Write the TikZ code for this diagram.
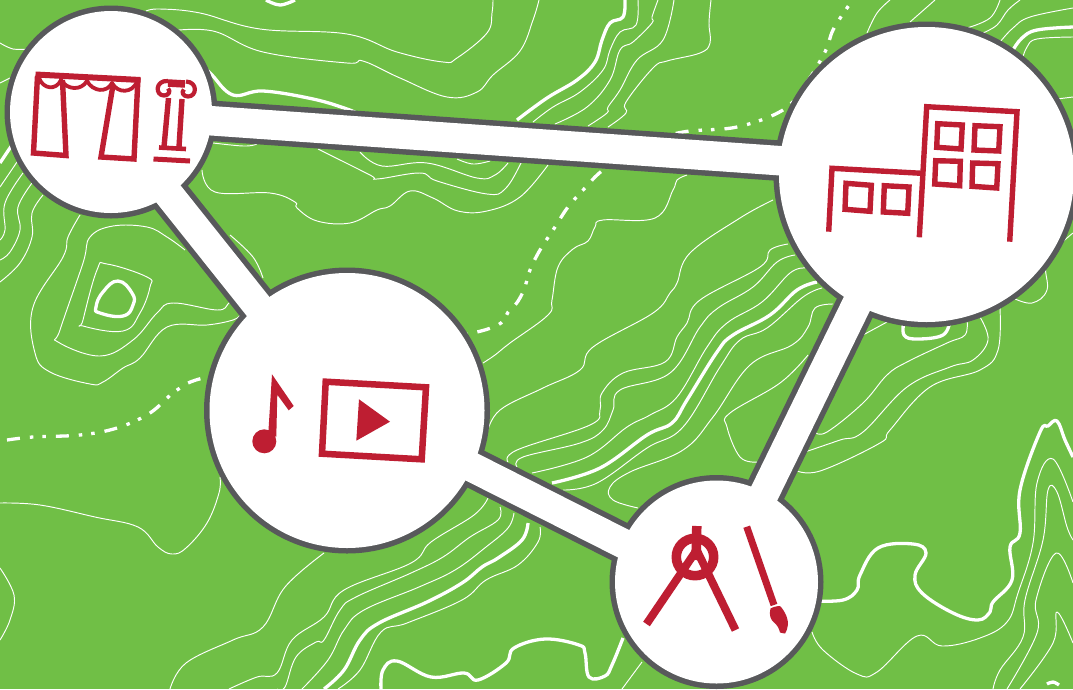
\documentclass[tikz,border=0pt]{standalone}
\definecolor{mapgreen}{HTML}{70BF46}
\definecolor{ringgray}{HTML}{58595B}
\definecolor{iconred}{HTML}{BE1E32}
\tikzset{
  thinc/.style={draw=white,line width=0.95pt,line join=round},
  thickc/.style={draw=white,line width=3.3pt,line join=round},
  roadc/.style={draw=white,line width=3.3pt,dash pattern=on 13pt off 10pt on 3.5pt off 9pt on 3.5pt off 10pt},
  discg/.style={circle,fill=ringgray,inner sep=0pt,outer sep=0pt},
  discw/.style={circle,fill=white,inner sep=0pt,outer sep=0pt},
  linkg/.style={draw=ringgray,line width=40.5pt},
  linkw/.style={draw=white,line width=29.5pt},
  icon/.style={draw=iconred,line width=5.4pt,line join=miter},
  iconf/.style={fill=iconred},
}
\newcommand{\cv}[2]{\draw[#1] plot[smooth,tension=.65] coordinates {#2};}
\begin{document}
\begin{tikzpicture}[x=1pt,y=-1pt]
\useasboundingbox (0,0) rectangle (1073,689);
\clip (0,0) rectangle (1073,689);
\fill[mapgreen] (0,0) rectangle (1073,689);
% contours: top
\cv{thinc}{(146,11)(160,9)(200,13)(260,29)(347,34)(397,52)(443,62)(457,58)(487,33)(492,13)(493,0)}
\cv{thinc}{(170,31)(213,31)(263,52)(347,63)(363,61)(400,78)(447,97)(477,92)(493,75)(520,51)(533,20)(539,0)}
\cv{thickc}{(205,68)(212,75)(233,95)(263,91)(313,99)(347,109)(360,115)}
\cv{thickc}{(266,0)(280,5)(295,0)}
\cv{thickc}{(0,163)(10,148)(16,140)}
\cv{thinc}{(0,43)(13,49)(28,49)}
\cv{thinc}{(0,83)(10,78)}
\cv{thinc}{(205,142)(243,146)(257,144)}
\cv{thinc}{(318,149)(370,175)(377,179)(420,173)(437,181)(487,194)(505,189)(521,163)(525,150)}
\cv{thinc}{(360,152)(382,166)(427,163)(477,178)(495,175)(508,163)}
\cv{thinc}{(457,159)(473,164)(490,161)}
\cv{thinc}{(202,170)(215,192)(270,193)(295,202)(297,208)(317,221)(350,223)(377,210)(390,206)(410,191)(433,198)(458,211)(487,211)(520,197)(548,165)}
% upper right of top link
\cv{thickc}{(625,0)(623,17)(610,23)(602,40)(595,62)(577,80)(547,98)(517,120)}
\cv{thinc}{(638,0)(636,25)(620,32)(610,50)(603,70)(580,92)(553,107)(533,122)}
\cv{thinc}{(658,0)(652,17)(652,23)(633,42)(620,50)(610,80)(587,107)(555,124)}
\cv{thinc}{(674,0)(663,40)(637,60)(620,90)(608,107)(607,113)(588,126)}
\cv{thinc}{(711,0)(709,23)(710,43)(700,53)(667,61)(653,68)(626,102)(626,113)(608,127)}
% below top link
\cv{thinc}{(687,175)(677,180)(673,190)(655,218)(603,220)(595,227)(588,241)(573,249)(558,267)(552,300)(548,315)(510,343)(495,355)(483,363)}
\cv{thinc}{(773,200)(740,218)(690,253)(677,283)(670,293)(653,313)(593,347)(580,370)(543,388)(500,410)(487,433)}
\cv{thinc}{(788,244)(770,250)(760,267)(700,300)(687,323)(677,337)(665,362)(623,373)(602,393)(600,410)(590,425)(517,450)(508,462)}
\cv{thinc}{(795,255)(777,262)(753,287)(718,308)(700,327)(670,373)(620,390)(613,410)(603,430)(580,443)(523,457)(517,467)}
\cv{thinc}{(805,268)(790,273)(762,302)(727,323)(707,347)(677,397)(650,415)(627,427)(587,457)(532,473)}
\cv{thickc}{(817,282)(797,290)(770,315)(733,335)(717,352)(687,400)(672,423)(647,435)(600,468)(552,483)}
\cv{thinc}{(822,288)(803,297)(767,328)(740,340)(720,367)(683,427)(647,448)(597,483)(563,490)}
\cv{thinc}{(833,304)(815,308)(808,327)(792,345)(750,365)(713,417)(683,450)(630,472)(610,487)(613,500)(638,508)}
\cv{thinc}{(808,355)(780,383)(730,413)(727,427)(740,457)(757,462)}
% top right
\cv{thinc}{(890,0)(877,13)(867,33)}
\cv{thinc}{(935,0)(910,22)}
\cv{thinc}{(1000,0)(990,18)(967,28)}
\cv{thinc}{(1020,0)(1008,10)(997,25)(983,33)}
\cv{thinc}{(1073,8)(1030,17)(1013,28)(1000,42)}
\cv{thickc}{(1073,27)(1037,30)(1022,38)(1013,50)}
\cv{thinc}{(1073,37)(1037,39)(1027,47)(1022,60)}
\cv{thinc}{(1073,97)(1057,99)}
% hill
\draw[thickc] plot[smooth cycle,tension=.8] coordinates {(118,281)(132,293)(133,305)(123,316)(100,313)(96,307)(103,292)};
\draw[thinc] plot[smooth cycle,tension=.7] coordinates {(107,264)(147,277)(150,287)(140,313)(123,331)(83,326)(83,320)(97,270)};
\cv{thinc}{(185,250)(167,237)(147,227)(113,226)(90,237)(83,263)(60,330)(58,342)(100,356)(133,340)(157,313)(173,303)(217,310)(228,304)(232,298)}
\cv{thinc}{(80,215)(68,237)(63,257)(33,307)(35,353)(50,372)(90,384)(103,382)(123,368)(140,358)(167,327)(207,325)(233,320)(240,315)}
\cv{thinc}{(230,235)(253,257)(263,278)}
\cv{thinc}{(43,195)(32,213)(32,237)(20,263)(0,282)}
\cv{thinc}{(32,183)(18,207)(20,230)(10,252)(0,260)}
\cv{thinc}{(23,173)(5,203)(5,230)(0,240)}
\cv{thinc}{(17,162)(0,187)}
% bottom left
\cv{thinc}{(0,503)(40,505)(95,517)(138,527)(158,547)(172,554)(186,548)(207,523)(219,493)(220,477)}
\cv{thinc}{(0,568)(14,595)(10,620)(0,640)}
\cv{thinc}{(324,553)(285,587)(263,627)(233,640)(186,663)(170,689)}
\cv{thinc}{(488,498)(474,515)(431,542)(411,563)(344,590)(324,617)(292,640)(277,673)(257,677)(229,689)}
\cv{thinc}{(500,507)(498,520)(470,537)(443,557)(411,573)(356,597)(340,610)(324,640)(316,642)(296,657)(285,687)(277,689)}
\cv{thinc}{(514,513)(508,528)(486,547)(455,570)(419,587)(364,610)(344,630)(328,660)(302,689)}
\cv{thickc}{(528,523)(522,540)(498,558)(482,567)(462,583)(427,602)(379,623)(360,640)(344,670)(324,689)}
\cv{thinc}{(540,527)(538,542)(518,565)(486,580)(462,600)(407,623)(381,632)(360,670)(338,689)}
\cv{thickc}{(381,689)(383,670)(397,661)(431,677)(464,673)(478,680)(506,663)(514,648)(545,639)(579,645)(585,653)(589,677)(605,676)(612,665)(623,638)}
\cv{thinc}{(642,662)(622,689)}
% bottom right
\cv{thickc}{(815,601)(843,600)(857,590)(860,575)(878,548)(913,544)(926,553)(915,575)(922,593)(953,613)(978,620)(990,612)(993,602)(1012,580)(1010,547)(1020,533)(1020,490)(1040,432)(1048,426)(1057,421)(1065,440)(1073,457)}
\cv{thinc}{(812,632)(823,650)(857,674)(877,672)(917,636)(942,646)(980,638)(1007,622)(1018,593)(1033,543)(1037,483)(1053,459)(1073,502)}
\cv{thinc}{(993,689)(1000,670)(1023,637)(1025,600)(1043,540)(1048,490)(1057,492)(1067,527)(1073,540)}
\cv{thinc}{(1007,689)(1037,633)(1036,600)(1056,553)(1073,583)}
\cv{thinc}{(1020,689)(1053,643)(1057,612)(1073,643)}
\cv{thickc}{(1047,684)(1053,682)(1059,685)}
\cv{thickc}{(904,320)(904,335)(917,339)(943,335)(950,320)}
\cv{thinc}{(967,320)(965,335)(947,343)(907,362)(887,375)(863,403)(827,432)(815,432)}
\cv{thinc}{(980,317)(988,340)(973,360)(950,367)(907,387)(863,432)(840,440)(805,452)}
\cv{thinc}{(1000,308)(998,350)(980,370)(930,387)(890,430)(880,443)(820,471)(795,470)}
\cv{thinc}{(863,335)(887,322)}
\cv{thinc}{(1013,298)(1032,303)(1047,290)(1047,260)(1073,233)}
% road
\draw[roadc] plot[smooth,tension=.6] coordinates {(7,440)(33,437)(80,435)(117,428)(150,413)(177,390)(207,377)(300,360)(477,332)(510,310)(523,292)(530,270)(540,250)(555,227)(568,207)(585,188)(603,170)(640,145)(683,132)(737,127)(783,110)(805,85)(825,52)(833,30)(847,8)(853,0)};
% network: grey layer
\node[discg,minimum size=213pt] (A) at (111,112) {};
\node[discg,minimum size=286pt] (B) at (347,410.5) {};
\node[discg,minimum size=306pt] (C) at (926.5,174.5) {};
\node[discg,minimum size=214pt] (D) at (716.5,582) {};
\draw[linkg] ([yshift=-1.7pt]A.center) -- ([yshift=3.5pt]C.center);
\draw[linkg] ([yshift=-9.8pt]A.center) -- ([yshift=-7.5pt]B.center);
\draw[linkg] ([yshift=6.5pt]B.center) -- ([yshift=-8.7pt]D.center);
\draw[linkg] ([xshift=-6.5pt]C.center) -- ([xshift=4.5pt]D.center);
% network: white layer
\draw[linkw] ([yshift=-1.7pt]A.center) -- ([yshift=3.5pt]C.center);
\draw[linkw] ([yshift=-9.8pt]A.center) -- ([yshift=-7.5pt]B.center);
\draw[linkw] ([yshift=6.5pt]B.center) -- ([yshift=-8.7pt]D.center);
\draw[linkw] ([xshift=-6.5pt]C.center) -- ([xshift=4.5pt]D.center);
\node[discw,minimum size=202pt] (Aw) at (A) {};
\node[discw,minimum size=275pt] (Bw) at (B) {};
\node[discw,minimum size=295pt] (Cw) at (C) {};
\node[discw,minimum size=203pt] (Dw) at (D) {};
% curtain
\draw[icon,line width=6pt] (35.5,74.5) -- (140.5,80);
\draw[icon] (37.5,76) -- (33.5,153) -- (66,155.5) -- (62.5,80);
\draw[icon] (138,78) -- (134,159) -- (101,157) -- (113,85);
\draw[icon,line width=3.8pt,line join=round] (39,78) .. controls (43,89) and (56,91) .. (61,80) .. controls (67,90) and (81,91) .. (87,81) .. controls (93,92) and (107,93) .. (112,83) .. controls (118,94) and (132,93) .. (137,82);
% column
\draw[icon,line width=7.5pt] (168,83) -- (185,84);
\draw[icon,line width=4.2pt,line join=round] (168,81) .. controls (155,80) and (155,95.5) .. (164,95.5) .. controls (169,95.5) and (171,91) .. (168,88.5);
\draw[icon,line width=4.2pt,line join=round] (186,81.5) .. controls (198,82) and (197,96.5) .. (188,96.5) .. controls (183,96.5) and (181,92) .. (184,89.5);
\draw[icon] (168.5,98) -- (164,147);
\draw[icon] (182,99) -- (179,147);
\draw[icon,line width=4.6pt] (159,147.5) -- (186,149);
\draw[icon,line width=5pt] (153.5,159) -- (190,161);
% building
\draw[icon] (919.3,237.3) -- (926.7,106.7) -- (1017,111.7) -- (1009.7,241.7);
\draw[icon] (828.7,231.7) -- (832,168.3) -- (921.7,173.3);
\draw[icon] (846,183.3) -- (871.3,185.3) -- (870,211.3) -- (845,209.3) -- cycle;
\draw[icon] (884.3,185.7) -- (909,187) -- (907.7,213.3) -- (883.3,212) -- cycle;
\draw[icon] (937.7,123.7) -- (962.3,125) -- (961,149) -- (936.7,147.3) -- cycle;
\draw[icon] (975,125.7) -- (1000,126.7) -- (998.7,151) -- (974,150) -- cycle;
\draw[icon] (935.7,160.7) -- (960.3,161.3) -- (959.7,185.7) -- (934.7,184) -- cycle;
\draw[icon] (972.7,163) -- (998,163.7) -- (996.7,188) -- (972,186.3) -- cycle;
% video and note
\draw[icon,line width=6.5pt] (325.7,381.7) -- (426,387.3) -- (421.7,459.3) -- (322,453.7) -- cycle;
\fill[iconred] (359,399.3) -- (390,421.7) -- (356.3,440.7) -- cycle;
\fill[iconred] (264.3,441.3) circle (12pt);
\fill[iconred] (268.3,433.3) -- (272,374.3) -- (293.7,406) -- (288.7,410.3) -- (277.3,394.7) -- (276.3,436.7) -- cycle;
% compass
\draw[icon,line width=8pt] (646.5,624) -- (696.7,550);
\draw[icon,line width=8pt] (735.5,630) -- (696.7,550);
\draw[icon,line width=9.5pt] (695,557) circle (18.7pt);
\draw[icon,line width=9.5pt] (696.8,526) -- (696,560);
% brush
\draw[icon,line width=7pt] (746.7,526.7) -- (774,605);
\fill[iconred] (770.5,608.5) .. controls (773,607) and (777,606) .. (780,606) .. controls (785,611) and (789,620) .. (787.7,626) .. controls (787,630) and (786,632) .. (785,633.5) .. controls (783,633) and (781,633) .. (780,632.5) .. controls (779,628) and (777,625) .. (774,622.5) .. controls (771,620) and (768.5,615) .. (770.5,608.5) -- cycle;
\end{tikzpicture}
\end{document}
